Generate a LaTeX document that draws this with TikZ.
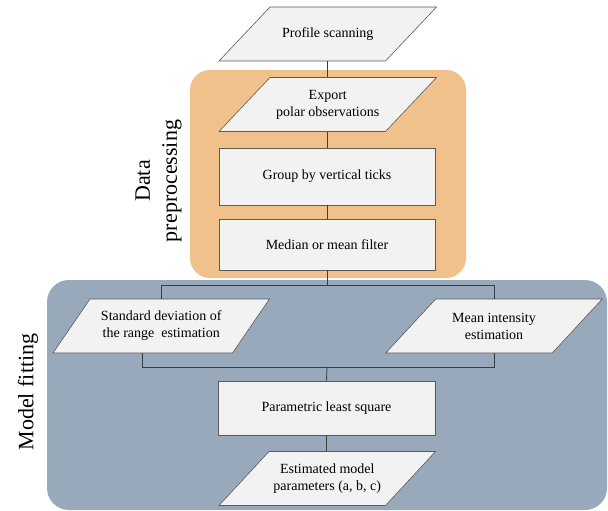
\documentclass[tikz,border=0pt]{standalone}
\usepackage{fontspec}
\setmainfont{Liberation Serif}
\definecolor{orangebg}{HTML}{F0C18B}
\definecolor{bluebg}{HTML}{98A9BC}
\definecolor{boxfill}{HTML}{F2F2F2}
\definecolor{boxline}{HTML}{5A5A5A}
\definecolor{conline}{HTML}{3C3C3C}
\tikzset{
  txt/.style={inner sep=0pt, align=center, font=\fontsize{14}{17}\selectfont, text=black},
  rectbox/.style={txt, draw=boxline, fill=boxfill, line width=0.6pt},
  parafill/.style={fill=boxfill, draw=boxline, line width=0.6pt},
  conn/.style={draw=conline, line width=0.8pt},
  biglabel/.style={align=center, font=\fontsize{22}{27}\selectfont, rotate=90, inner sep=0pt}
}
\newcommand\mypara[6]{%
  \path[parafill] (#2-#4/2+#5, #3-27) -- (#2+#4/2+#5, #3-27) -- (#2+#4/2-#5, #3+27) -- (#2-#4/2-#5, #3+27) -- cycle;
  \node[txt, minimum width=#4pt, minimum height=54pt] (#1) at (#2,#3) {#6};}
\begin{document}
\begin{tikzpicture}[x=1pt,y=-1pt]
\useasboundingbox (0,0) rectangle (608,511);
% backgrounds
\fill[orangebg, rounded corners=20pt] (190,70) rectangle (466,278);
\fill[bluebg, rounded corners=22pt] (47,280) rectangle (607,510);
% labels
\node[biglabel] (lbldata) at (158.5,181) {Data\\preprocessing};
\node[biglabel] (lblmodel) at (28,392) {Model fitting};
% nodes
\mypara{ps}{327.75}{34}{166.5}{25.5}{Profile scanning}
\mypara{ex}{327.75}{104.5}{166.5}{25.5}{Export\\polar observations}
\node[rectbox, minimum width=216pt, minimum height=57pt] (gr) at (327,176.5) {Group by vertical ticks};
\node[rectbox, minimum width=216pt, minimum height=51pt] (med) at (327,244.5) {Median or mean filter};
\mypara{sd}{161.25}{326}{179.5}{18.5}{Standard deviation of\\the range\ \ estimation}
\mypara{mi}{494}{326}{166.5}{25}{Mean intensity\\estimation}
\node[rectbox, minimum width=217pt, minimum height=54pt] (pls) at (326.5,408) {Parametric least square};
\mypara{est}{327.25}{478.5}{166.5}{25}{Estimated model\\parameters (a, b, c)}
% connectors
\coordinate (j1) at (327,285);
\coordinate (j2) at (327,367);
\draw[conn] (ps.south -| gr.north) -- (ex.north -| gr.north);
\draw[conn] (ex.south -| gr.north) -- (gr.north);
\draw[conn] (gr.south) -- (med.north);
\draw[conn] (med.south) -- (j1);
\draw[conn] (sd.north) -- (sd.north |- j1) -- (mi.north |- j1) -- (mi.north);
\draw[conn] ([xshift=-18.5pt]sd.south) -- ([xshift=-18.5pt]sd.south |- j2) -- (mi.south |- j2) -- (mi.south);
\draw[conn] (j2) -- (pls.north);
\draw[conn] (pls.south) -- (est.north -| pls.north);
\end{tikzpicture}
\end{document}
